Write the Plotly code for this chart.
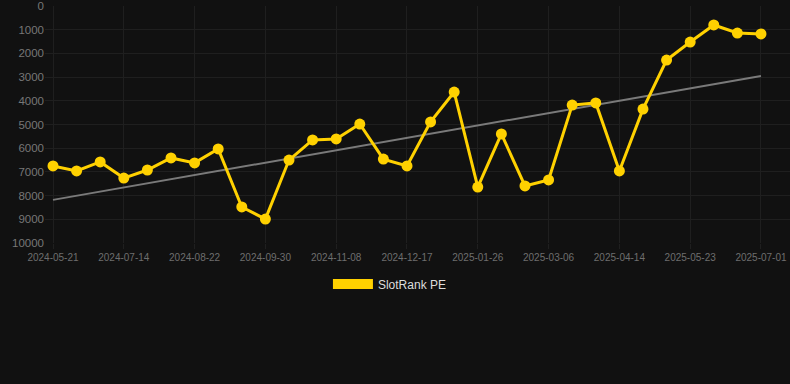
import plotly.graph_objects as go

dates = [
    "2024-05-21", "2024-06-08", "2024-06-26", "2024-07-14", "2024-07-27", "2024-08-09",
    "2024-08-22", "2024-09-04", "2024-09-17", "2024-09-30", "2024-10-13", "2024-10-26",
    "2024-11-08", "2024-11-21", "2024-12-04", "2024-12-17", "2024-12-30", "2025-01-12",
    "2025-01-26", "2025-02-08", "2025-02-21", "2025-03-06", "2025-03-19", "2025-04-01",
    "2025-04-14", "2025-04-27", "2025-05-10", "2025-05-23", "2025-06-05", "2025-06-18",
    "2025-07-01",
]
rank = [
    6750, 6960, 6580, 7260, 6920, 6410, 6620, 6030, 8480, 8990, 6500, 5650,
    5610, 4980, 6460, 6750, 4890, 3630, 7640, 5400, 7590, 7340, 4180, 4090,
    6960, 4350, 2280, 1520, 800, 1140, 1180,
]
trend_dates = [dates[0], dates[-1]]
trend_values = [8180, 2950]
tick_dates = dates[::3]
y_ticks = list(range(0, 10001, 1000))
y_ticktext = [str(v) for v in y_ticks]

GOLD = "#FFD100"
fig = go.Figure()
fig.add_trace(go.Scatter(
    x=trend_dates, y=trend_values, mode="lines",
    line=dict(color="#7a7a7a", width=2), showlegend=False, hoverinfo="skip",
))
fig.add_trace(go.Scatter(
    x=dates, y=rank, mode="lines+markers", name="SlotRank PE",
    line=dict(color=GOLD, width=3), marker=dict(color=GOLD, size=11),
    showlegend=False,
))
fig.add_trace(go.Scatter(
    x=[None], y=[None], mode="lines", name="SlotRank PE",
    line=dict(color=GOLD, width=12), showlegend=True,
))

fig.update_layout(
    width=790, height=384,
    margin=dict(l=45, r=0, t=6, b=141),
    paper_bgcolor="#111111", plot_bgcolor="#111111",
    font=dict(family="Arial, Liberation Sans, sans-serif"),
    showlegend=True,
    legend=dict(orientation="h", x=0.463, xanchor="center", y=-0.173, yanchor="middle",
                font=dict(color="#dddddd", size=12), bgcolor="rgba(0,0,0,0)",
                itemwidth=40),
    xaxis=dict(
        type="category", categoryorder="array", categoryarray=dates,
        range=[-0.339, 31.23],
        tickvals=tick_dates, ticktext=tick_dates,
        showgrid=True, gridcolor="#1f1f1f", gridwidth=1,
        ticks="outside", ticklen=5, tickcolor="#1f1f1f",
        tickfont=dict(color="#6e6e6e", size=10),
        zeroline=False, showline=False,
    ),
    yaxis=dict(
        range=[10000, 0], tickvals=y_ticks, ticktext=y_ticktext,
        showgrid=True, gridcolor="#1f1f1f", gridwidth=1,
        tickfont=dict(color="#777777", size=11.5),
        zeroline=False, showline=False,
    ),
)

fig.write_html(
    "out.html",
    config={"displayModeBar": False},
    post_script="document.body.style.margin='0';document.body.style.background='#111111';",
)
